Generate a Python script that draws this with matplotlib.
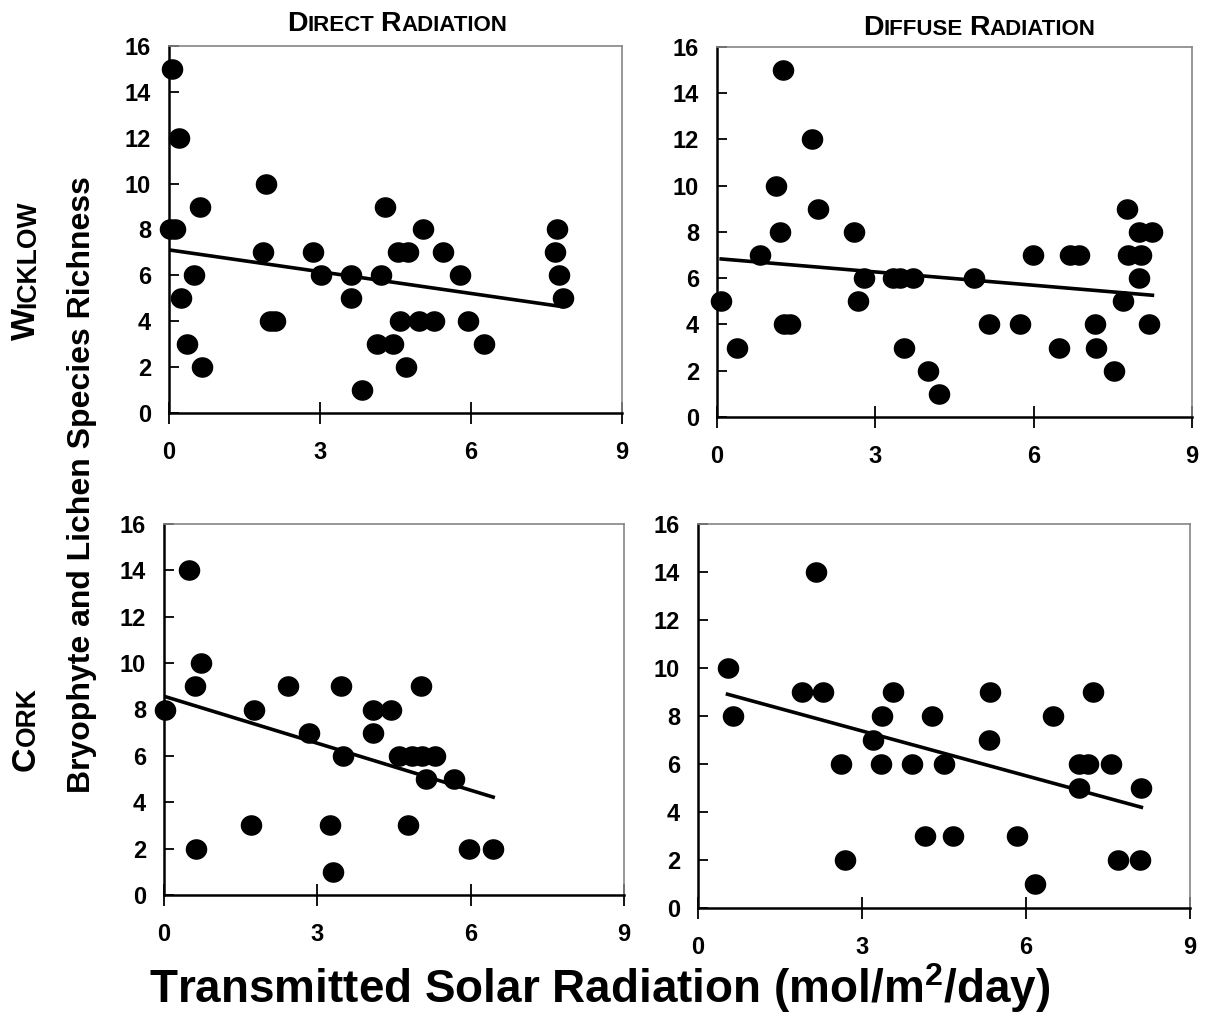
import matplotlib
matplotlib.use('Agg')
import matplotlib.pyplot as plt
import numpy as np
from matplotlib.path import Path

plt.rcParams['font.family'] = ['Liberation Sans', 'DejaVu Sans']
plt.rcParams['font.weight'] = 'bold'
plt.rcParams['mathtext.fontset'] = 'custom'
plt.rcParams['mathtext.rm'] = 'Liberation Sans:bold'
plt.rcParams['mathtext.bf'] = 'Liberation Sans:bold'

# species richness vs transmitted radiation, per site and radiation type
wick_direct_x = [0.05, 0.2, 1.93, 0.62, 4.29, 0.02, 0.12, 5.04, 7.71, 1.86, 2.87, 4.54, 4.74,
                 5.45, 7.67, 0.5, 3.02, 3.62, 4.21, 5.79, 7.75, 0.23, 3.62, 7.82, 2.01, 2.11,
                 4.59, 4.97, 5.27, 5.95, 0.35, 4.14, 4.45, 6.25, 0.65, 4.71, 3.84]
wick_direct_y = [15, 12, 10, 9, 9, 8, 8, 8, 8, 7, 7, 7, 7, 7, 7, 6, 6, 6, 6, 6, 6, 5, 5, 5,
                 4, 4, 4, 4, 4, 4, 3, 3, 3, 3, 2, 2, 1]

wick_diffuse_x = [1.25, 1.80, 1.12, 1.92, 7.77, 1.19, 2.59, 8.0, 8.25, 0.82, 5.98, 6.68, 6.86,
                  7.79, 8.04, 2.79, 3.34, 3.46, 3.71, 4.86, 8.0, 0.08, 2.67, 7.70, 1.26, 1.39,
                  5.15, 5.75, 7.17, 8.18, 0.38, 3.54, 6.48, 7.19, 4.0, 7.53, 4.21]
wick_diffuse_y = [15, 12, 10, 9, 9, 8, 8, 8, 8, 7, 7, 7, 7, 7, 7, 6, 6, 6, 6, 6, 6, 5, 5, 5,
                  4, 4, 4, 4, 4, 4, 3, 3, 3, 3, 2, 2, 1]

cork_direct_x = [0.48, 0.72, 0.61, 2.42, 3.46, 5.02, 0.02, 1.76, 4.08, 4.44, 2.84, 4.08, 3.50,
                 4.59, 4.85, 5.05, 5.30, 5.13, 5.68, 1.70, 3.25, 4.78, 0.62, 5.97, 6.44, 3.31]
cork_direct_y = [14, 10, 9, 9, 9, 9, 8, 8, 8, 8, 7, 7, 6, 6, 6, 6, 6, 5, 5, 3, 3, 3, 2, 2, 2, 1]

cork_diffuse_x = [2.15, 0.54, 1.90, 2.29, 3.57, 5.35, 7.23, 0.64, 3.37, 4.28, 6.49, 3.20, 5.32,
                  2.62, 3.34, 3.92, 4.50, 6.97, 7.14, 7.55, 6.97, 8.11, 4.15, 4.67, 5.83, 2.68,
                  7.69, 8.08, 6.16]
cork_diffuse_y = [14, 10, 9, 9, 9, 9, 9, 8, 8, 8, 8, 7, 7, 6, 6, 6, 6, 6, 6, 6, 5, 5, 3, 3, 3,
                  2, 2, 2, 1]

x_ticks = [0, 3, 6, 9]
y_ticks = [0, 2, 4, 6, 8, 10, 12, 14, 16]

W, H = 1208, 1027
fig = plt.figure(figsize=(W / 100, H / 100), dpi=100)

def px_rect(l, t, r, b):
    return [l / W, 1 - b / H, (r - l) / W, (b - t) / H]

# slightly flattened dot
theta = np.linspace(0, 2 * np.pi, 60)
dot = Path(np.column_stack([1.05 * np.cos(theta), np.sin(theta)]), closed=True)

panels = [
    (px_rect(169, 46, 622, 413), wick_direct_x, wick_direct_y),
    (px_rect(717, 47, 1192, 417), wick_diffuse_x, wick_diffuse_y),
    (px_rect(164, 524, 624, 895), cork_direct_x, cork_direct_y),
    (px_rect(698, 524, 1190, 908), cork_diffuse_x, cork_diffuse_y),
]

for rect, xs, ys in panels:
    ax = fig.add_axes(rect)
    xs = np.array(xs)
    ys = np.array(ys)
    ax.plot(xs, ys, linestyle='none', marker=dot, markersize=14.5,
            color='black', clip_on=False, zorder=3)
    k, b0 = np.polyfit(xs, ys, 1)
    xl = np.array([xs.min(), xs.max()])
    ax.plot(xl, k * xl + b0, color='black', lw=2.6, zorder=2)
    ax.set_xlim(0, 9)
    ax.set_ylim(0, 16)
    ax.set_xticks(x_ticks)
    ax.set_yticks(y_ticks)
    ax.tick_params(axis='x', direction='inout', length=16, width=1.3, pad=12,
                   labelsize=17)
    ax.tick_params(axis='y', direction='in', length=7, width=1.3, pad=13,
                   labelsize=17)
    for s in ('left', 'bottom'):
        ax.spines[s].set_linewidth(1.8)
        ax.spines[s].set_color('black')
    for s in ('top', 'right'):
        ax.spines[s].set_linewidth(1.2)
        ax.spines[s].set_color('#858585')

renderer = fig.canvas.get_renderer()

def small_caps(x, y, text, size, rot=0):
    # big first letter + smaller capitals, centred at (x, y) in pixels
    pieces = []
    for i, word in enumerate(text.split()):
        if i:
            pieces.append((' ', size * 0.78))
        pieces.append((word[0], size))
        pieces.append((word[1:].upper(), size * 0.78))
    widths = []
    for s, fs in pieces:
        if s == ' ':
            widths.append(0.278 * fs * 100 / 72)
            continue
        t = fig.text(0, 0, s, fontsize=fs, fontweight='bold')
        widths.append(t.get_window_extent(renderer).width)
        t.remove()
    total = sum(widths)
    pos = -total / 2
    for (s, fs), w in zip(pieces, widths):
        if s != ' ':
            if rot == 0:
                px, py = x + pos, y
            else:
                px, py = x, y + pos
            fig.text(px / W, py / H, s, fontsize=fs, fontweight='bold',
                     rotation=rot, rotation_mode='anchor', ha='left', va='baseline')
        pos += w

# column titles (baseline positions in pixels from the bottom)
small_caps(397, H - 31, 'Direct Radiation', 20.5)
small_caps(979, H - 35, 'Diffuse Radiation', 20.5)
# row titles
small_caps(35, H - 270, 'Wicklow', 24.5, rot=90)
small_caps(35, H - 729, 'Cork', 24.5, rot=90)

fig.text(82 / W, 1 - 485 / H, 'Bryophyte and Lichen Species Richness', fontsize=23,
         fontweight='bold', rotation=90, ha='center', va='center')
fig.text(600 / W, 1 - 988 / H, r'Transmitted Solar Radiation (mol/m$^{2}$/day)',
         fontsize=33, fontweight='bold', ha='center', va='center')

fig.savefig('out.png', dpi=100)
